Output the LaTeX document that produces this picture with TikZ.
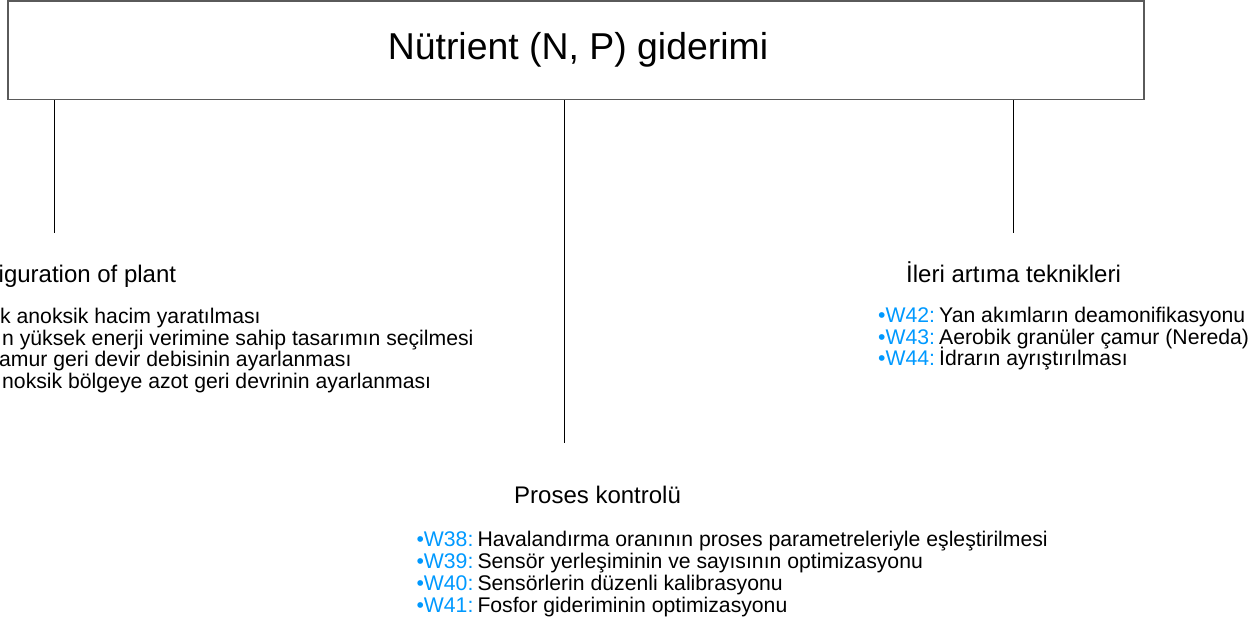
\documentclass[tikz,border=0pt]{standalone}
\usepackage{fontspec}
\setmainfont{Liberation Sans}
\definecolor{wblue}{RGB}{0,153,255}
\definecolor{boxgray}{RGB}{90,90,90}
\newcommand\witem[2]{\makebox[61pt][l]{\color{wblue}•#1:}#2}
\begin{document}
\begin{tikzpicture}[x=1pt,y=-1pt]
\tikzset{
 rootbox/.style={draw=boxgray, line width=1.5pt, minimum width=1136pt, minimum height=98.5pt, inner sep=0pt, font=\fontsize{37.4}{40}\selectfont, text height=26pt, text depth=8pt},
 conn/.style={line width=1.4pt, black},
 head/.style={anchor=base west, inner sep=0pt, font=\fontsize{24}{28}\selectfont},
 item/.style={anchor=base west, inner sep=0pt, font=\fontsize{21.2}{24}\selectfont},
}
\useasboundingbox (0,0) rectangle (1258,623);
\node[rootbox] (root) at (576,50.25) {\hspace*{4pt}Nütrient (N, P) giderimi};
\coordinate (endL) at (54.5,233);
\coordinate (endM) at (564.5,442.5);
\coordinate (endR) at (1013.5,233);
\draw[conn] (root.south -| endL) -- (endL);
\draw[conn] (root.south -| endM) -- (endM);
\draw[conn] (root.south -| endR) -- (endR);
\node[head] (hL) at (-1.5,282) {iguration of plant};
\node[head] (hM) at (514,503.3) {Proses kontrolü};
\node[head] (hR) at (906,282) {İleri artıma teknikleri};
\node[item] (l1) at (0,323.3) {k anoksik hacim yaratılması};
\node[item] (l2) at (2,345) {n yüksek enerji verimine sahip tasarımın seçilmesi};
\node[item] (l3) at (-1,366.7) {amur geri devir debisinin ayarlanması};
\node[item] (l4) at (2,388.3) {noksik bölgeye azot geri devrinin ayarlanması};
\node[item] (m1) at (416.3,546) {\witem{W38}{Havalandırma oranının proses parametreleriyle eşleştirilmesi}};
\node[item] (m2) at (416.3,568.2) {\witem{W39}{Sensör yerleşiminin ve sayısının optimizasyonu}};
\node[item] (m3) at (416.3,590.4) {\witem{W40}{Sensörlerin düzenli kalibrasyonu}};
\node[item] (m4) at (416.3,612.6) {\witem{W41}{Fosfor gideriminin optimizasyonu}};
\node[item] (r1) at (878,322) {\witem{W42}{Yan akımların deamonifikasyonu}};
\node[item] (r2) at (878,344) {\witem{W43}{Aerobik granüler çamur (Nereda)}};
\node[item] (r3) at (878,365.5) {\witem{W44}{İdrarın ayrıştırılması}};
\end{tikzpicture}
\end{document}
